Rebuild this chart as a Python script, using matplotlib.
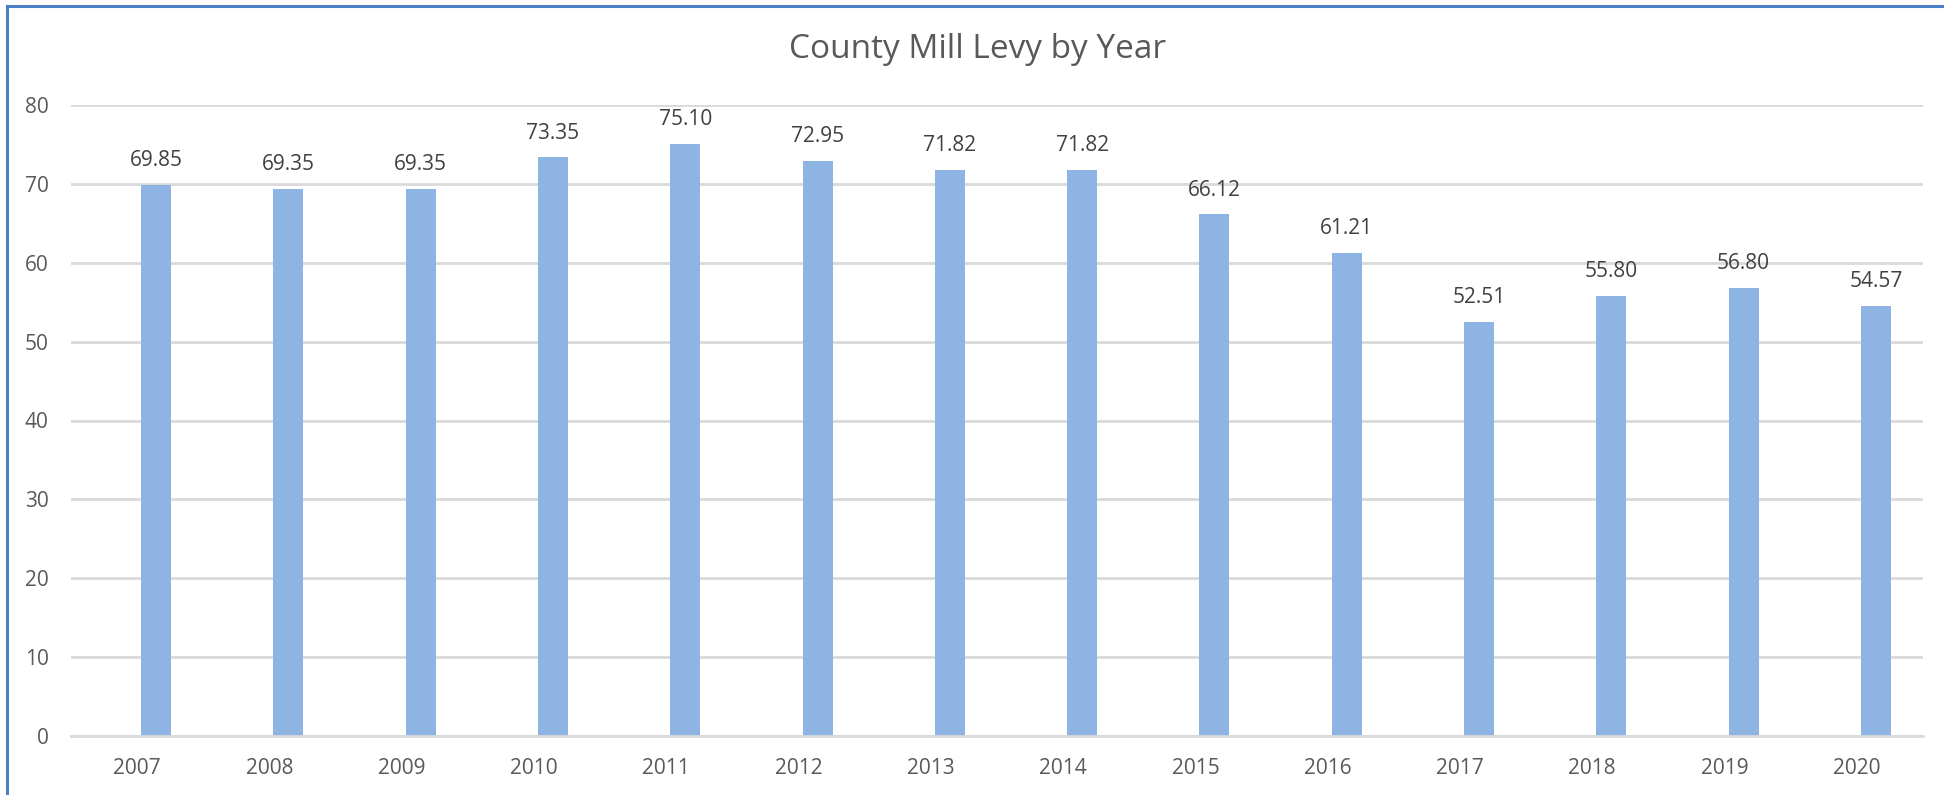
import matplotlib
matplotlib.use('Agg')
import matplotlib.pyplot as plt
from matplotlib.lines import Line2D

years = ['2007', '2008', '2009', '2010', '2011', '2012', '2013',
         '2014', '2015', '2016', '2017', '2018', '2019', '2020']
levy = [69.85, 69.35, 69.35, 73.35, 75.10, 72.95, 71.82,
        71.82, 66.12, 61.21, 52.51, 55.80, 56.80, 54.57]
y_ticks = [0, 10, 20, 30, 40, 50, 60, 70, 80]

plt.rcParams['font.family'] = ['Open Sans', 'DejaVu Sans']
text_color = '#595959'
label_color = '#404040'

fig = plt.figure(figsize=(19.44, 7.95), dpi=100)
ax = fig.add_axes([71 / 1944, 59 / 795, 1852 / 1944, 631 / 795])

x = list(range(len(years)))
# bars sit a little right of the category centre (empty second series slot in the original)
shift = 0.144
bar_x = [i + shift for i in x]
ax.bar(bar_x, levy, width=0.227, color='#8EB4E3', zorder=2)

for bx, v in zip(bar_x, levy):
    ax.annotate(f'{v:.2f}', xy=(bx, v), xytext=(0, 10), textcoords='offset points',
                ha='center', va='bottom', fontsize=15, color=label_color)

ax.set_xlim(-0.5, len(years) - 0.5)
ax.set_ylim(0, 80)
ax.set_yticks(y_ticks)
ax.set_xticks(x)
ax.set_xticklabels(years)
ax.yaxis.grid(True, color='#D9D9D9', linewidth=2, zorder=0)
ax.set_axisbelow(True)
ax.tick_params(axis='both', length=0, labelsize=15, labelcolor=text_color)
ax.tick_params(axis='y', pad=16)
ax.tick_params(axis='x', pad=16)
for s in ['top', 'right', 'left']:
    ax.spines[s].set_visible(False)
ax.spines['bottom'].set_color('#D9D9D9')
ax.spines['bottom'].set_linewidth(2)

fig.text(978 / 1944, 1 - 50 / 795, 'County Mill Levy by Year', ha='center', va='center',
         fontsize=24, color=text_color)

# blue chart frame (left and top edges only visible)
fig.add_artist(Line2D([7 / 1944, 7 / 1944], [0, 1 - 6 / 795], color='#4A7EC5', linewidth=2.2))
fig.add_artist(Line2D([7 / 1944, 1], [1 - 6 / 795, 1 - 6 / 795], color='#4A7EC5', linewidth=2.2))

fig.savefig('out.png', dpi=100)
